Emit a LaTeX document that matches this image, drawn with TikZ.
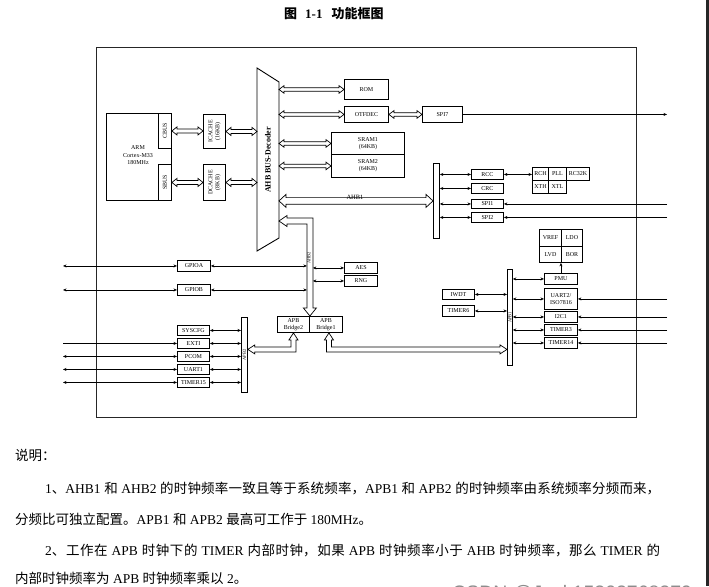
\documentclass[tikz,border=0pt]{standalone}
\usepackage{fontspec}
\usepackage{graphicx}
\setmainfont{Liberation Serif}
\newfontfamily\cjk{Noto Sans CJK SC}
\newfontfamily\wmfont{Liberation Sans}
\usetikzlibrary{arrows.meta,calc}
\XeTeXlinebreaklocale "zh"
\XeTeXlinebreakskip=0pt plus 1.5pt

\tikzset{
  box/.style={draw, line width=0.9pt, fill=white, inner sep=0pt, align=center,
              font=\fontsize{6}{7}\selectfont},
  barbox/.style={draw, line width=0.8pt, fill=white, inner sep=0pt},
  pipe/.style={draw, line width=0.7pt, fill=white, line join=miter},
  biarr/.style={{Stealth[length=3.5pt,width=3pt]}-{Stealth[length=3.5pt,width=3pt]}, line width=0.7pt},
  toarr/.style={-{Stealth[length=3.5pt,width=3pt]}, line width=0.7pt},
  tinylbl/.style={rotate=90, inner sep=0pt, font=\fontsize{4.5}{5}\selectfont},
}

\newcommand\bx[6]{\node[box, anchor=north west, minimum width={(#4-#2)*1pt},
  minimum height={(#5-#3)*1pt}] (#1) at (#2,#3) {#6};}
\newcommand\barat[5]{\node[barbox, anchor=north west, minimum width={(#4-#2)*1pt},
  minimum height={(#5-#3)*1pt}] (#1) at (#2,#3) {};}
\newcommand\hollowH[5]{%
  \coordinate (hA) at (#1);
  \coordinate (hB) at (#2 |- hA);
  \draw[pipe] (hA) -- ($(hA)+(#5,-#4)$) -- ($(hA)+(#5,-#3)$) -- ($(hB)+(-#5,-#3)$)
    -- ($(hB)+(-#5,-#4)$) -- (hB) -- ($(hB)+(-#5,#4)$) -- ($(hB)+(-#5,#3)$)
    -- ($(hA)+(#5,#3)$) -- ($(hA)+(#5,#4)$) -- cycle;}
\newcommand\justline[1]{\parbox[b]{615pt}{\parfillskip=0pt\parindent=0pt\leavevmode #1\par}}

\begin{document}
\begin{tikzpicture}[x=1pt,y=-1pt]
\fill[white] (0,0) rectangle (709,586);
\useasboundingbox (0,0) rectangle (709,586);
\fill[black!85] (706,0) rectangle (709,586);

% title
\node[anchor=west, inner sep=0pt, font=\fontsize{13}{15}\selectfont] (title) at (284,14)
  {{\cjk\bfseries 图}\hspace{8pt}\textbf{1-1}\hspace{9pt}{\cjk\bfseries 功能框图}};

% frame
\draw[line width=0.9pt, black!85] (96,47) rectangle (636,417);

\coordinate (lft) at (63,0);
\coordinate (rgt) at (667,0);

% CPU
\bx{arm}{106}{113}{171}{200}{}
\node[align=center, inner sep=0pt, font=\fontsize{6}{7.5}\selectfont] (armtxt) at (138,155.5)
  {ARM\\Cortex-M33\\180MHz};
\bx{cbus}{158}{113}{171}{148}{\rotatebox{90}{CBUS}}
\bx{sbus}{158}{164}{171}{200}{\rotatebox{90}{SBUS}}
\bx{icache}{203}{114}{225}{148}{\rotatebox{90}{\begin{tabular}{@{}c@{}}ICACHE\\(16KB)\end{tabular}}}
\bx{dcache}{203}{164}{225}{200}{\rotatebox{90}{\begin{tabular}{@{}c@{}}DCACHE\\(8KB)\end{tabular}}}

% decoder
\coordinate (decTL) at (257,68);
\coordinate (decTR) at (279,82);
\coordinate (decBR) at (279,238);
\coordinate (decBL) at (257,251);
\draw[line width=0.9pt, fill=white] (decTL) -- (decTR) -- (decBR) -- (decBL) -- cycle;
\node[rotate=90, inner sep=0pt, font=\bfseries\fontsize{8}{9}\selectfont] (declbl) at (268,160) {AHB BUS-Decoder};

% memories
\bx{rom}{344}{79}{388}{99}{ROM}
\bx{otfdec}{344}{106}{388}{122}{OTFDEC}
\bx{spi7}{422}{106}{462}{122}{SPI7}
\bx{sram1}{331}{132}{404}{154}{SRAM1\\(64KB)}
\bx{sram2}{331}{154}{404}{177}{SRAM2\\(64KB)}

% AHB1 side
\barat{ahb1bar}{433}{163}{439}{238}
\bx{rcc}{471}{169}{503}{179}{RCC}
\bx{crc}{471}{183}{503}{193}{CRC}
\bx{spia}{471}{199}{503}{208}{SPI1}
\bx{spib}{471}{212}{503}{222}{SPI2}
\bx{rch}{532}{167}{548}{180}{RCH}
\bx{pll}{548}{167}{566}{180}{PLL}
\bx{rck}{566}{167}{589}{180}{RC32K}
\bx{xth}{532}{180}{548}{193}{XTH}
\bx{xtl}{548}{180}{566}{193}{XTL}

% power
\bx{vref}{539}{229}{561}{246}{VREF}
\bx{ldo}{561}{229}{582}{246}{LDO}
\bx{lvd}{539}{246}{561}{262}{LVD}
\bx{bor}{561}{246}{582}{262}{BOR}

% APB1 side
\barat{apb1bar}{507}{269}{512}{365}
\node[tinylbl] (apb1lbl) at (apb1bar.center) {APB1};
\bx{pmu}{544}{273}{577}{284}{PMU}
\bx{uart2}{544}{288}{577}{309}{UART2/\\ISO7816}
\bx{itc}{544}{311}{577}{322}{I2C1}
\bx{tim3}{544}{324}{577}{335}{TIMER3}
\bx{tim14}{544}{337}{577}{348}{TIMER14}
\bx{iwdt}{442}{289}{474}{299}{IWDT}
\bx{tim6}{442}{305}{474}{316}{TIMER6}

% AHB2 side
\bx{aes}{344}{262}{377}{273}{AES}
\bx{rng}{344}{275}{377}{286}{RNG}
\bx{brtwo}{277}{316}{309}{332}{APB\\Bridge2}
\bx{brone}{309}{316}{342}{332}{APB\\Bridge1}
\bx{gpioa}{177}{260}{210}{271}{GPIOA}
\bx{gpiob}{177}{284}{210}{295}{GPIOB}

% APB2 side
\barat{apb2bar}{241}{317}{247}{392}
\node[tinylbl] (apb2lbl) at (apb2bar.center) {APB2};
\bx{syscfg}{177}{325}{209}{335}{SYSCFG}
\bx{exti}{177}{338}{209}{348}{EXTI}
\bx{pcom}{177}{351}{209}{361}{PCOM}
\bx{uarta}{177}{364}{209}{374}{UART1}
\bx{tim15}{177}{377}{209}{387}{TIMER15}

% hollow bus arrows
\hollowH{cbus.east}{icache.west}{2}{4}{5}
\hollowH{icache.east}{decTL}{2}{4}{5}
\hollowH{sbus.east}{dcache.west}{2}{4}{5}
\hollowH{dcache.east}{decTL}{2}{4}{5}
\hollowH{decTR |- rom.west}{rom.west}{1.8}{3.8}{5}
\hollowH{decTR |- otfdec.west}{otfdec.west}{1.8}{3.8}{5}
\hollowH{otfdec.east}{spi7.west}{1.8}{3.8}{5}
\hollowH{decTR |- sram1.west}{sram1.west}{1.8}{3.8}{5}
\hollowH{decTR |- sram2.west}{sram2.west}{1.8}{3.8}{5}
\hollowH{decTR |- ahb1bar.west}{ahb1bar.west}{3.3}{6.5}{7}
\node[inner sep=0pt, font=\fontsize{6.5}{7}\selectfont] (ahb1lbl) at (355,197) {AHB1};

% AHB2 bent pipe
\coordinate (ahbT) at (decTR |- 0,221);
\coordinate (ahbB) at (brtwo.north east);
\draw[pipe] (ahbT) -- ++(8,-5.5) -- ++(0,2.5) -| ($(ahbB)+(3,-8)$) -- ++(3.5,0) -- (ahbB)
  -- ($(ahbB)+(-6.5,-8)$) -- ++(3.5,0) |- ($(ahbT)+(8,3)$) -- ++(0,2.5) -- cycle;
\node[tinylbl] (ahb2lbl) at (309,258) {AHB2};
\coordinate (ahbL) at ($(ahbB)+(-3,0)$);
\coordinate (ahbR) at ($(ahbB)+(3,0)$);

% bridge2 -> APB2 pipe
\coordinate (b2t) at (brtwo.south);
\coordinate (b2c) at ($(b2t)+(0,16.5)$);
\coordinate (b2e) at (apb2bar.east |- b2c);
\draw[pipe] (b2t) -- ++(4.5,7) -- ++(-2,0) |- ($(b2e)+(7,2.5)$) -- ++(0,2) -- (b2e)
  -- ++(7,-4.5) -- ++(0,2) -| ($(b2t)+(-2.5,7)$) -- ++(-2,0) -- cycle;

% bridge1 -> APB1 pipe
\coordinate (b1t) at ($(brone.south)+(3,0)$);
\coordinate (b1c) at ($(b1t)+(0,16.5)$);
\coordinate (b1e) at (apb1bar.west |- b1c);
\draw[pipe] (b1t) -- ++(-4.5,7) -- ++(2,0) |- ($(b1e)+(-7,2.5)$) -- ++(0,2) -- (b1e)
  -- ++(-7,-4.5) -- ++(0,2) -| ($(b1t)+(2.5,7)$) -- ++(2,0) -- cycle;

% thin connectors: AHB1
\draw[biarr] (ahb1bar.east |- rcc.west) -- (rcc.west);
\draw[biarr] (ahb1bar.east |- crc.west) -- (crc.west);
\draw[biarr] (ahb1bar.east |- spia.west) -- (spia.west);
\draw[biarr] (ahb1bar.east |- spib.west) -- (spib.west);
\draw[biarr] (rcc.east) -- (rch.west |- rcc.east);
\draw[toarr] (rgt |- spia.east) -- (spia.east);
\draw[toarr] (rgt |- spib.east) -- (spib.east);
\draw[toarr] (spi7.east) -- (rgt |- spi7.east);

% APB1
\draw[biarr] (apb1bar.east |- pmu.west) -- (pmu.west);
\draw[biarr] (apb1bar.east |- uart2.west) -- (uart2.west);
\draw[biarr] (apb1bar.east |- itc.west) -- (itc.west);
\draw[biarr] (apb1bar.east |- tim3.west) -- (tim3.west);
\draw[biarr] (apb1bar.east |- tim14.west) -- (tim14.west);
\draw[toarr] (rgt |- uart2.east) -- (uart2.east);
\draw[toarr] (rgt |- itc.east) -- (itc.east);
\draw[toarr] (rgt |- tim3.east) -- (tim3.east);
\draw[toarr] (rgt |- tim14.east) -- (tim14.east);
\draw[toarr] (pmu.north) -- (pmu.north |- lvd.south);
\draw[biarr] (iwdt.east) -- (apb1bar.west |- iwdt.east);
\draw[biarr] (tim6.east) -- (apb1bar.west |- tim6.east);

% AHB2
\draw[biarr] (gpioa.east) -- (ahbL |- gpioa.east);
\draw[biarr] (gpiob.east) -- (ahbL |- gpiob.east);
\draw[biarr] (ahbR |- aes.west) -- (aes.west);
\draw[biarr] (ahbR |- rng.west) -- (rng.west);
\draw[biarr] (lft |- gpioa.west) -- (gpioa.west);
\draw[biarr] (lft |- gpiob.west) -- (gpiob.west);

% APB2
\draw[biarr] (syscfg.east) -- (apb2bar.west |- syscfg.east);
\draw[biarr] (exti.east) -- (apb2bar.west |- exti.east);
\draw[biarr] (pcom.east) -- (apb2bar.west |- pcom.east);
\draw[biarr] (uarta.east) -- (apb2bar.west |- uarta.east);
\draw[biarr] (tim15.east) -- (apb2bar.west |- tim15.east);
\draw[toarr] (lft |- exti.west) -- (exti.west);
\draw[biarr] (lft |- pcom.west) -- (pcom.west);
\draw[biarr] (lft |- uarta.west) -- (uarta.west);
\draw[biarr] (lft |- tim15.west) -- (tim15.west);

% notes
\begin{scope}[every node/.style={anchor=base west, inner sep=0pt, font=\fontsize{13.5}{16}\selectfont}]
\node (n0) at (15,460) {{\cjk 说明：}};
\node (n1) at (45,493) {\justline{1{\cjk 、}AHB1 {\cjk 和} AHB2 {\cjk 的时钟频率一致且等于系统频率，}APB1 {\cjk 和} APB2 {\cjk 的时钟频率由系统频率分频而来，}}};
\node (n2) at (15,524) {{\cjk 分频比可独立配置。}APB1 {\cjk 和} APB2 {\cjk 最高可工作于} 180MHz{\cjk 。}};
\node (n3) at (45,555) {\justline{2{\cjk 、工作在} APB {\cjk 时钟下的} TIMER {\cjk 内部时钟，如果} APB {\cjk 时钟频率小于} AHB {\cjk 时钟频率，那么} TIMER {\cjk 的}}};
\node (n4) at (15,583) {{\cjk 内部时钟频率为} APB {\cjk 时钟频率乘以} 2{\cjk 。}};
\end{scope}
\node[anchor=base west, inner sep=0pt, text=black!45, font=\wmfont\fontsize{19.5}{22}\selectfont] (wm) at (452,599) {CSDN @Jack15302768279};
\end{tikzpicture}
\end{document}
